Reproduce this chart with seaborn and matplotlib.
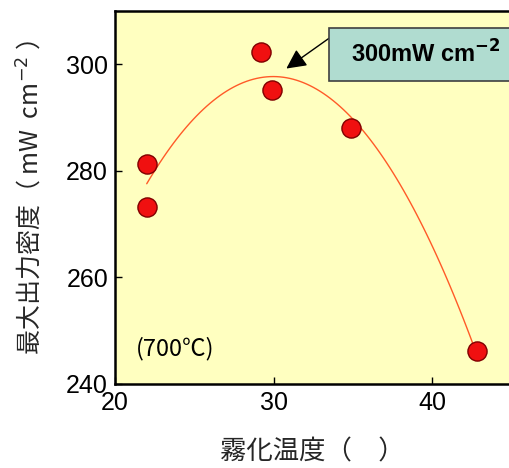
import numpy as np
import pandas as pd
import matplotlib
matplotlib.use('Agg')
import matplotlib.pyplot as plt
from matplotlib.patches import Rectangle
import seaborn as sns

# data
temp = [22.0, 22.0, 29.2, 29.9, 34.9, 42.8]
power = [281.2, 273.2, 302.3, 295.1, 288.0, 246.2]

df = pd.DataFrame({'temp': temp, 'power': power})

sns.set_style('ticks')
plt.rcParams['font.family'] = ['Liberation Sans', 'Noto Sans CJK JP', 'DejaVu Sans']
plt.rcParams['text.color'] = 'black'
plt.rcParams['xtick.color'] = 'black'
plt.rcParams['ytick.color'] = 'black'

fig = plt.figure(figsize=(5.1, 4.68), dpi=100)
ax = fig.add_axes([0.2255, 0.1795, 0.7745, 0.797])
ax.set_facecolor('#FFFFC0')

# quadratic fit line
sns.regplot(data=df, x='temp', y='power', order=2, ci=None, scatter=False,
            line_kws={'color': '#FF5A28', 'lw': 1.0}, ax=ax)
sns.scatterplot(data=df, x='temp', y='power', s=190, color='#F01010',
                edgecolor='#800000', linewidth=1.0, ax=ax, zorder=5)

ax.set_xlim(20, 44.9)
ax.set_ylim(240, 310)
ax.set_xticks([20, 30, 40])
ax.set_yticks([240, 260, 280, 300])
ax.tick_params(direction='in', length=5, width=1, labelsize=18, pad=5)
for s in ax.spines.values():
    s.set_linewidth(1.8)
    s.set_color('black')
ax.spines['right'].set_visible(False)

ax.set_xlabel('霧化温度（　）', fontsize=19, labelpad=17,
              family=['Noto Sans CJK JP', 'DejaVu Sans'])
ax.set_ylabel('最大出力密度（ mW  cm$^{-2}$ ）', fontsize=18, labelpad=15,
              family=['Noto Sans CJK JP', 'DejaVu Sans'])

ax.text(21.3, 246.6, '(700℃)', fontsize=17, va='center',
        family=['Noto Sans CJK JP', 'DejaVu Sans'])

# label box
ax.add_patch(Rectangle((33.52, 296.8), 13.0, 10.1, fc='#B0DCD0', ec='#404040',
                       lw=1.2, clip_on=False, zorder=6))
ax.text(39.6, 302.0, r'300mW cm$^{\mathbf{-2}}$', fontsize=17, fontweight='bold',
        ha='center', va='center', zorder=7)
ax.annotate('', xy=(30.8, 299.2), xytext=(33.5, 304.9),
            arrowprops=dict(arrowstyle='-|>', color='black', lw=1,
                            mutation_scale=30, shrinkA=0, shrinkB=0))

fig.savefig('out.png', dpi=100)
